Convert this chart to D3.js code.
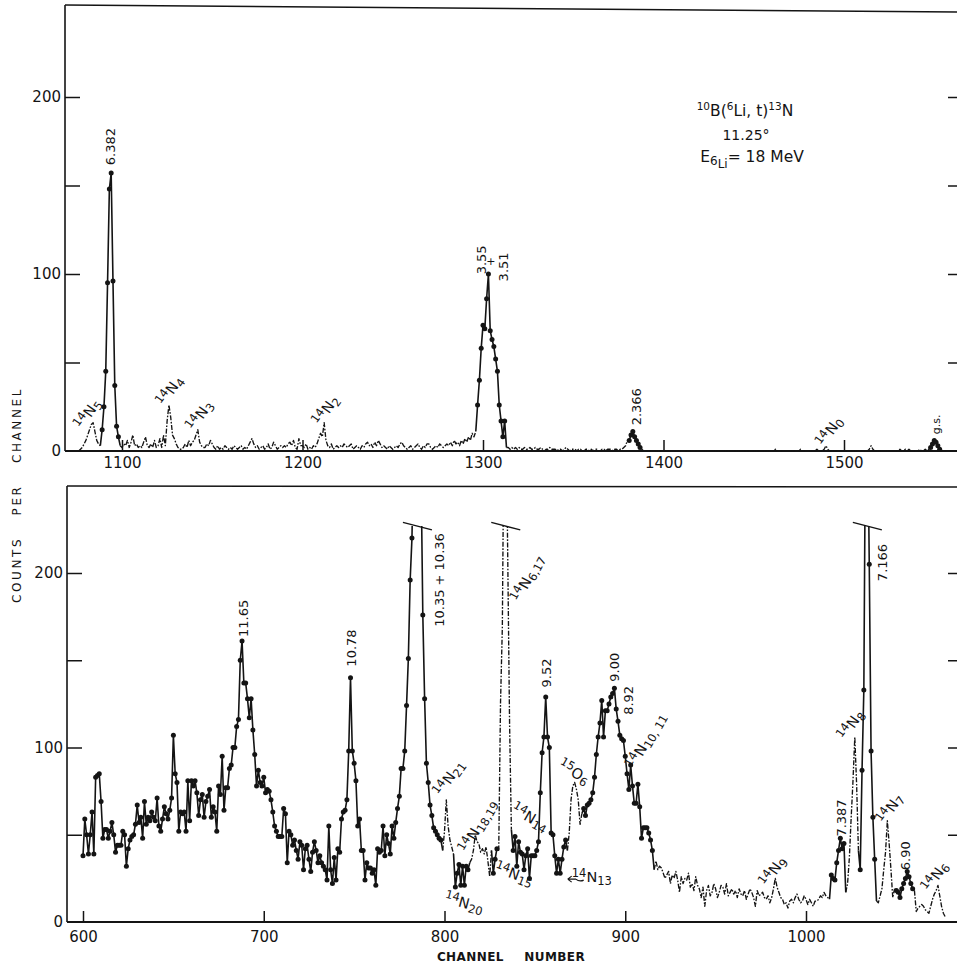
<!DOCTYPE html>
<html><head><meta charset="utf-8">
<script src="https://cdn.jsdelivr.net/npm/d3@7"></script>
<style>
body{margin:0;background:#fff}
svg{display:block}
text{font-family:"DejaVu Sans",sans-serif;fill:#141414}
</style></head><body>
<svg id="c" width="957" height="969"></svg>
<script>
// ---------------- DATA ----------------
const topStart = 1076;
const topCounts = [
 0, 1, 2, 4,
 6, 9, 12, 15, 16, 11, 6, 4, 3, 12,
 25, 45, 95, 148, 157, 96, 37, 14, 8, 3,
 2, 4, 3, 6, 2, 5, 9, 3, 4, 2,
 3, 2, 5, 8, 3, 2, 4, 2, 6, 2,
 3, 7, 2, 9, 3, 17, 26, 19, 9, 7,
 4, 2, 1, 1, 2, 4, 2, 6, 3, 5,
 6, 9, 12, 5, 3, 2, 2, 4, 3, 6,
 4, 2, 1, 3, 1, 2, 1, 3, 2, 1,
 2, 1, 3, 2, 1, 2, 3, 1, 2, 1,
 3, 5, 7, 4, 2, 3, 1, 2, 3, 1,
 2, 4, 1, 2, 5, 3, 1, 2, 3, 2,
 3, 2, 4, 5, 3, 6, 2, 1, 7, 3,
 3, 2, 4, 1, 2, 1, 3, 2, 4, 7,
 10, 8, 16, 6, 3, 2, 4, 1, 2, 3,
 2, 3, 2, 4, 3, 2, 3, 4, 1, 2,
 3, 2, 1, 3, 2, 4, 5, 3, 4, 2,
 5, 3, 6, 4, 2, 3, 2, 1, 3, 2,
 1, 2, 3, 2, 4, 5, 3, 2, 1, 2,
 3, 1, 2, 3, 4, 2, 1, 3, 2, 4,
 4, 2, 1, 2, 3, 2, 4, 3, 2, 3,
 4, 3, 5, 3, 6, 4, 5, 3, 6, 4,
 7, 5, 8, 6, 10, 8, 11, 26, 40, 58,
 71, 69, 86, 100, 68, 63, 59, 52, 45, 26,
 17, 8, 17, 2, 2, 1, 2, 1, 2, 1,
 2, 1, 1, 2, 1, 1, 2, 1, 1, 2,
 1, 1, 2, 1, 0, 1, 1, 2, 1, 1,
 1, 0, 1, 1, 0, 1, 2, 1, 0, 1,
 1, 1, 0, 1, 1, 0, 0, 1, 1, 0,
 1, 0, 1, 1, 0, 0, 1, 1, 0, 1,
 1, 1, 0, 1, 1, 0, 1, 1, 2, 3,
 6, 6, 9, 11, 8, 6, 4, 2, 1, 0,
 0, 0, 0, 0, 0, 0, 0, 0, 0, 0,
 0, 0, 0, 0, 0, 0, 0, 0, 0, 0,
 0, 0, 0, 0, 0, 0, 0, 0, 0, 0,
 0, 0, 0, 0, 0, 0, 0, 0, 0, 0,
 0, 0, 0, 0, 0, 0, 0, 0, 0, 0,
 0, 0, 0, 0, 0, 0, 0, 0, 0, 0,
 0, 0, 0, 0, 0, 0, 0, 0, 0, 0,
 0, 0, 1, 0, 0, 0, 0, 0, 0, 0,
 0, 0, 0, 0, 0, 0, 1, 0, 0, 0,
 0, 0, 0, 0, 0, 1, 0, 0, 0, 1,
 3, 1, 0, 0, 0, 0, 0, 0, 0, 0,
 0, 0, 0, 0, 0, 0, 0, 0, 0, 0,
 0, 0, 0, 0, 1, 3, 1, 0, 0, 0,
 0, 0, 0, 0, 0, 0, 0, 0, 0, 0,
 0, 1, 0, 0, 1, 0, 1, 0, 0, 0,
 0, 0, 1, 0, 0, 1, 0, 1, 2, 4,
 6, 5, 3, 1, 0, 0, 0
];
const bottomStart = 600;
const bottomCounts = [
 38, 59, 50, 39, 50, 63, 39, 83, 84, 85,
 69, 48, 53, 53, 48, 52, 57, 50, 40, 44,
 44, 44, 52, 50, 32, 42, 47, 49, 50, 56,
 67, 57, 60, 48, 69, 56, 60, 58, 63, 60,
 58, 71, 55, 52, 59, 66, 62, 59, 64, 71,
 107, 85, 80, 52, 63, 62, 63, 52, 81, 58,
 81, 78, 81, 74, 61, 70, 73, 60, 69, 72,
 76, 60, 66, 63, 52, 78, 73, 95, 64, 77,
 77, 88, 90, 100, 100, 112, 116, 150, 161, 137,
 137, 128, 117, 128, 110, 96, 78, 87, 80, 78,
 83, 74, 76, 75, 70, 63, 55, 52, 49, 49,
 49, 65, 62, 34, 52, 50, 44, 47, 41, 36,
 46, 44, 30, 42, 44, 36, 29, 40, 46, 41,
 34, 38, 34, 32, 30, 24, 55, 30, 22, 37,
 24, 42, 40, 59, 63, 64, 70, 98, 140, 98,
 91, 81, 55, 59, 41, 41, 24, 34, 31, 31,
 28, 30, 21, 42, 40, 41, 55, 38, 50, 45,
 39, 55, 48, 57, 65, 72, 88, 88, 98, 124,
 151, 196, 220, 280, 300, 300, 290, 260, 176, 128,
 91, 80, 67, 61, 54, 52, 50, 48, 47, 41,
 52, 70, 55, 47, 43, 39, 20, 28, 33, 21,
 32, 21, 32, 30, 34, 36, 41, 50, 46, 45,
 40, 42, 39, 43, 35, 26, 41, 28, 36, 42,
 41, 126, 169, 300, 300, 208, 114, 53, 41, 49,
 32, 46, 40, 39, 30, 38, 42, 25, 38, 38,
 38, 41, 46, 74, 97, 106, 129, 106, 100, 51,
 50, 38, 28, 36, 28, 36, 43, 47, 41, 51,
 70, 78, 80, 76, 70, 56, 62, 65, 61, 67,
 68, 70, 74, 83, 96, 106, 114, 127, 106, 121,
 121, 125, 129, 131, 134, 122, 115, 107, 105, 104,
 95, 85, 76, 90, 78, 68, 68, 79, 66, 48,
 54, 54, 54, 51, 47, 41, 30, 35, 30, 32,
 31, 28, 25, 27, 29, 22, 27, 25, 29, 24,
 17, 26, 22, 25, 24, 28, 20, 22, 18, 26,
 21, 19, 14, 20, 9, 18, 21, 15, 17, 22,
 19, 14, 17, 21, 20, 16, 22, 15, 17, 19,
 16, 18, 14, 19, 16, 15, 18, 13, 16, 19,
 17, 14, 9, 18, 15, 16, 17, 14, 13, 15,
 11, 14, 19, 25, 20, 17, 14, 13, 10, 11,
 8, 12, 13, 11, 14, 16, 13, 11, 12, 15,
 13, 10, 13, 11, 9, 12, 12, 13, 15, 14,
 17, 15, 14, 13, 27, 25, 24, 34, 41, 48,
 42, 45, 17, 22, 37, 60, 81, 106, 79, 41,
 30, 87, 133, 300, 300, 205, 98, 60, 36, 12,
 11, 15, 19, 30, 40, 58, 45, 30, 14, 19,
 18, 17, 14, 19, 22, 25, 29, 26, 22, 19,
 18, 6, 8, 9, 10, 9, 7, 6, 5, 9,
 13, 16, 18, 21, 15, 9, 5, 3
];
const topXTicks = [1100, 1200, 1300, 1400, 1500];
const bottomXTicks = [600, 700, 800, 900, 1000];
const yTicks = [0, 50, 100, 150, 200];
const yTickLabels = [0, 100, 200];
// channel ranges drawn as dash-dot trace without point markers
const topDashed = [[1076, 1088], [1099, 1296], [1313, 1380], [1388, 1547]];
const bottomDashed = [[799, 805], [814, 826], [830, 837], [868, 876], [916, 1013], [1022, 1029], [1039, 1049], [1060, 1077]];
const bottomClip = 227;
// peak annotations (channel, counts, rotation)
const topLabels = [
 {main: "6.382", ch: 1093.4, v: 172, rot: -90},
 {sup: "14", main: "N", sub: "5", ch: 1081, v: 21, rot: -55},
 {sup: "14", main: "N", sub: "4", ch: 1126.6, v: 34, rot: -55},
 {sup: "14", main: "N", sub: "3", ch: 1143, v: 20, rot: -55},
 {sup: "14", main: "N", sub: "2", ch: 1213, v: 23, rot: -55},
 {main: "3.55", ch: 1299.2, v: 108, rot: -90},
 {main: "+", ch: 1304.3, v: 107, rot: 0, size: 11},
 {main: "3.51", ch: 1311.4, v: 104, rot: -90},
 {main: "2.366", ch: 1385.3, v: 25, rot: -90},
 {sup: "14", main: "N", sub: "0", ch: 1492, v: 11, rot: -55},
 {main: "g.s.", ch: 1551, v: 15, rot: -90, size: 11}
];
const bottomLabels = [
 {main: "11.65", ch: 689, v: 174, rot: -90},
 {main: "10.78", ch: 748.8, v: 157, rot: -90},
 {main: "10.35  +  10.36", ch: 797, v: 196, rot: -90},
 {sup: "14", main: "N", sub: "21", ch: 802.5, v: 82.5, rot: -55},
 {sup: "14", main: "N", sub: "20", ch: 810.8, v: 11, rot: 15},
 {sup: "14", main: "N", sub: "18,19", ch: 818.5, v: 55, rot: -60},
 {sup: "14", main: "N", sub: "6,17", ch: 846, v: 197, rot: -62},
 {sup: "14", main: "N", sub: "15", ch: 838.5, v: 27.5, rot: 20},
 {sup: "14", main: "N", sub: "14", ch: 847.3, v: 60, rot: 30},
 {sup: "15", main: "O", sub: "6", ch: 871.6, v: 86, rot: 30},
 {sup: "14", main: "N", sub: "13", ch: 881.5, v: 26, rot: 0},
 {main: "9.52", ch: 856.7, v: 142.7, rot: -90},
 {main: "9.00", ch: 894.3, v: 146, rot: -90},
 {main: "8.92", ch: 902, v: 127, rot: -90},
 {sup: "14", main: "N", sub: "10, 11", ch: 911.5, v: 104, rot: -60},
 {sup: "14", main: "N", sub: "9", ch: 981.7, v: 29, rot: -55},
 {main: "7.387", ch: 1019.9, v: 59.6, rot: -90},
 {sup: "14", main: "N", sub: "8", ch: 1024.9, v: 113, rot: -55},
 {main: "7.166", ch: 1042.6, v: 206, rot: -90},
 {sup: "14", main: "N", sub: "7", ch: 1046.5, v: 65, rot: -55},
 {main: "6.90", ch: 1055.3, v: 38, rot: -90},
 {sup: "14", main: "N", sub: "6", ch: 1071.4, v: 26, rot: -55}
];

// ---------------- DRAW ----------------
const ink = "#141414";
const svg = d3.select("#c");
svg.append("rect").attr("width", 957).attr("height", 969).attr("fill", "#fff");

function inAny(ch, ranges) { return ranges.some(r => ch >= r[0] && ch <= r[1]); }
function segDashed(a, b, ranges) { return ranges.some(r => a >= r[0] && b <= r[1]); }

function drawPanel(p) {
  const g = svg.append("g");
  const x = p.x, y = p.y;
  const pts = p.counts.map((v, i) => ({ch: p.start + i, v}));
  const clipId = "clip" + p.id;
  const clipTop = p.clipMax != null ? y(p.clipMax) : p.top;
  svg.append("clipPath").attr("id", clipId).append("rect")
    .attr("x", p.left).attr("y", clipTop).attr("width", p.right - p.left).attr("height", p.bottom - clipTop + 3);

  // frame
  g.append("line").attr("x1", p.left).attr("x2", p.left).attr("y1", p.top).attr("y2", p.bottom)
    .attr("stroke", ink).attr("stroke-width", 1.6);
  g.append("line").attr("x1", p.left).attr("x2", p.right).attr("y1", p.top).attr("y2", p.topRight)
    .attr("stroke", ink).attr("stroke-width", 1.6);
  g.append("line").attr("x1", p.left).attr("x2", p.right).attr("y1", p.bottom).attr("y2", p.bottom)
    .attr("stroke", ink).attr("stroke-width", 1.8);

  // axes
  const ax = g.append("g").attr("transform", `translate(0,${p.bottom})`)
    .call(d3.axisBottom(x).tickValues(p.xTicks).tickSizeInner(-11).tickSizeOuter(0).tickPadding(p.xPad).tickFormat(d3.format("d")));
  const ay = g.append("g").attr("transform", `translate(${p.left},0)`)
    .call(d3.axisLeft(y).tickValues(yTicks).tickSizeInner(-15).tickSizeOuter(0).tickPadding(4)
      .tickFormat(d => yTickLabels.includes(d) ? d : ""));
  const ar = g.append("g").attr("transform", `translate(${p.right},0)`)
    .call(d3.axisRight(y).tickValues(yTicks.filter(d => d > 0)).tickSizeInner(-10).tickSizeOuter(0).tickFormat(""));
  [ax, ay, ar].forEach(a => {
    a.select(".domain").remove();
    a.selectAll("line").attr("stroke", ink).attr("stroke-width", 1.5);
    a.selectAll("text").attr("font-size", 15).attr("fill", ink).attr("font-family", "DejaVu Sans, sans-serif");
  });
  ay.selectAll(".tick").filter(d => d === 0).select("line").remove();

  // trace
  const plot = g.append("g").attr("clip-path", `url(#${clipId})`);
  const line = d3.line().x(d => x(d.ch)).y(d => y(d.v));
  let run = [pts[0]], runDashed = null;
  const flush = () => {
    if (run.length < 2) return;
    plot.append("path").attr("d", line(run)).attr("fill", "none").attr("stroke", ink)
      .attr("stroke-width", runDashed ? 1.35 : 1.6).attr("stroke-linejoin", "round")
      .attr("stroke-dasharray", runDashed ? "5,1.6,1.6,1.6" : null);
  };
  for (let i = 0; i < pts.length - 1; i++) {
    const d = segDashed(pts[i].ch, pts[i + 1].ch, p.dashed);
    if (runDashed === null) runDashed = d;
    if (d !== runDashed) { flush(); run = [pts[i]]; runDashed = d; }
    run.push(pts[i + 1]);
  }
  flush();
  plot.selectAll("circle.pt").data(pts.filter(d => !inAny(d.ch, p.dashed) && d.v >= 1 && (p.clipMax == null || d.v <= p.clipMax)))
    .join("circle").attr("class", "pt").attr("cx", d => x(d.ch)).attr("cy", d => y(d.v)).attr("r", 2.5).attr("fill", ink);

  // off-scale caps
  if (p.clipMax != null) {
    const cm = p.clipMax;
    for (let i = 1; i < pts.length; i++) {
      if (pts[i].v > cm && pts[i - 1].v <= cm) {
        let j = i;
        while (j < pts.length && pts[j].v > cm) j++;
        const a0 = pts[i - 1], a1 = pts[i], b0 = pts[j - 1], b1 = pts[j];
        const chL = a0.ch + (cm - a0.v) / (a1.v - a0.v);
        const chR = b0.ch + (b0.v - cm) / (b0.v - b1.v);
        const xm = (x(chL) + x(chR)) / 2, yc = y(cm);
        g.append("line").attr("x1", xm - 14).attr("y1", yc - 3.5).attr("x2", xm + 15).attr("y2", yc + 4)
          .attr("stroke", ink).attr("stroke-width", 1.4);
      }
    }
  }

  // labels
  p.labels.forEach(l => {
    const t = g.append("text")
      .attr("transform", `translate(${x(l.ch)},${y(l.v)}) rotate(${l.rot})`)
      .attr("text-anchor", "middle").attr("dominant-baseline", "central")
      .attr("font-size", l.size || 13).attr("fill", ink);
    if (l.sup) {
      t.append("tspan").attr("font-size", 11.5).attr("dy", -4).text(l.sup);
      t.append("tspan").attr("font-size", 14.5).attr("dy", 4).text(l.main);
      t.append("tspan").attr("font-size", 11.5).attr("dy", 4).text(l.sub);
    } else {
      t.text(l.main);
    }
  });
}

const xTop = d3.scaleLinear().domain([1100, 1500]).range([122, 844]);
const yTop = d3.scaleLinear().domain([0, 200]).range([451, 97]);
drawPanel({id: "t", x: xTop, y: yTop, start: topStart, counts: topCounts, xTicks: topXTicks,
  left: 65, right: 958, top: 5, topRight: 12, bottom: 451, xPad: 6, dashed: topDashed, labels: topLabels, clipMax: null});

const xBot = d3.scaleLinear().domain([600, 1000]).range([83, 806]);
const yBot = d3.scaleLinear().domain([0, 200]).range([922, 573]);
drawPanel({id: "b", x: xBot, y: yBot, start: bottomStart, counts: bottomCounts, xTicks: bottomXTicks,
  left: 67, right: 958, top: 486, topRight: 487, bottom: 922, xPad: 9, dashed: bottomDashed, labels: bottomLabels, clipMax: bottomClip});

// arrow for 14N13
svg.append("path")
  .attr("d", `M${xBot(877)},${yBot(24)} q-4,2 -8,-1 l-8,0 m0,0 l4,-3 m-4,3 l4,3`)
  .attr("fill", "none").attr("stroke", ink).attr("stroke-width", 1.2);

// reaction title
const title = svg.append("text").attr("x", 745).attr("y", 116).attr("text-anchor", "middle").attr("font-size", 15.5);
title.append("tspan").attr("font-size", 10.5).attr("dy", -6).text("10");
title.append("tspan").attr("dy", 6).text("B(");
title.append("tspan").attr("font-size", 10.5).attr("dy", -6).text("6");
title.append("tspan").attr("dy", 6).text("Li, t)");
title.append("tspan").attr("font-size", 10.5).attr("dy", -6).text("13");
title.append("tspan").attr("dy", 6).text("N");
svg.append("text").attr("x", 746).attr("y", 140).attr("text-anchor", "middle").attr("font-size", 14).text("11.25°");
const en = svg.append("text").attr("x", 752).attr("y", 162).attr("text-anchor", "middle").attr("font-size", 15.5);
en.append("tspan").text("E");
en.append("tspan").attr("font-size", 12).attr("dy", 3).text("6");
en.append("tspan").attr("font-size", 12).attr("dy", 3).text("Li");
en.append("tspan").attr("dy", -6).text("= 18 MeV");

// axis titles
svg.append("text").attr("transform", "translate(21,495) rotate(-90)").attr("text-anchor", "middle")
  .attr("font-size", 12).attr("letter-spacing", 2.6).attr("word-spacing", 15).text("COUNTS PER CHANNEL");
svg.append("text").attr("x", 511).attr("y", 961).attr("text-anchor", "middle")
  .attr("font-size", 12).attr("font-weight", "bold").attr("letter-spacing", 0.4).attr("word-spacing", 16).text("CHANNEL NUMBER");
</script>
</body></html>
